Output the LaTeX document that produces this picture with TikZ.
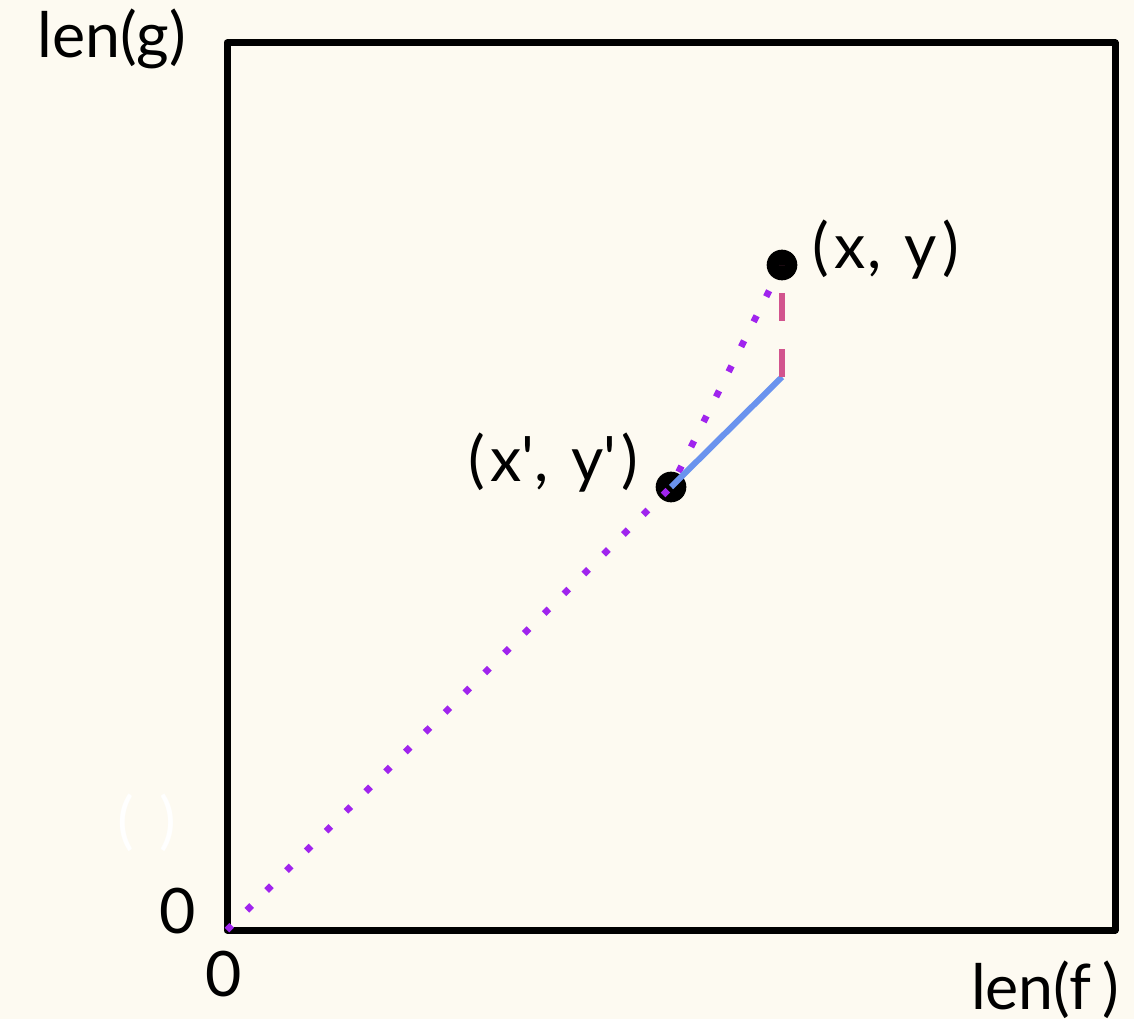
\documentclass[tikz,border=0pt]{standalone}
\usepackage{fontspec}
\setmainfont{Lato}
\definecolor{bg}{HTML}{FDFAF1}
\definecolor{dotpurple}{HTML}{A024EE}
\definecolor{segblue}{HTML}{6A93EE}
\definecolor{segpink}{HTML}{D2548E}
\newcommand{\qt}{\textquotesingle}
\newcommand{\pg}{\hspace{0.09em}}
\begin{document}
\begin{tikzpicture}[x=0.75pt,y=-0.75pt,
  lbl/.style={inner sep=0pt,font=\fontsize{47}{56}\selectfont},
  wide/.style={font=\fontsize{47}{56}\selectfont\addfontfeature{LetterSpace=3}},
  pt/.style={circle,fill=black,inner sep=0pt,minimum size=23pt},
  frame/.style={line width=5.25pt,line join=round},
  diag/.style={dotpurple,line width=5pt,dash pattern=on 5pt off 16pt},
  proj/.style={segblue,line width=4.5pt},
  vert/.style={segpink,line width=4.2pt,dash pattern=on 21pt off 21pt}]
\fill[bg] (0,0) rectangle (1134,1019);
\useasboundingbox (0,0) rectangle (1134,1019);
\draw[frame] (227,43) rectangle (1115,930);
\coordinate (O) at (227,930);
\coordinate (C) at (782,377);
\node[pt] (P) at (671,487) {};
\node[pt] (Q) at (782,265) {};
\draw[diag] (O) -- (P.center) -- (Q);
\draw[proj] (P.center) -- (C);
\draw[vert] (C) -- (Q.center);
\node[lbl,wide,anchor=base west] (lq) at (812,269) {(\pg x,\hspace{0.36em}y\pg)};
\node[lbl,wide,anchor=base east] (lp) at (639,481) {(\pg x\qt,\hspace{0.36em}y\qt\pg)};
\node[lbl,anchor=base west] (ly) at (37,58) {len(g)};
\node[lbl,anchor=base east] (lx) at (1119,1009) {len(f\,)};
\node[lbl,anchor=base] (zy) at (178,933) {0};
\node[lbl,anchor=base] (zx) at (224,996) {0};
\node[lbl,text=white] (ghost) at (147,823) {(\hspace{0.4em})};
\end{tikzpicture}
\end{document}
